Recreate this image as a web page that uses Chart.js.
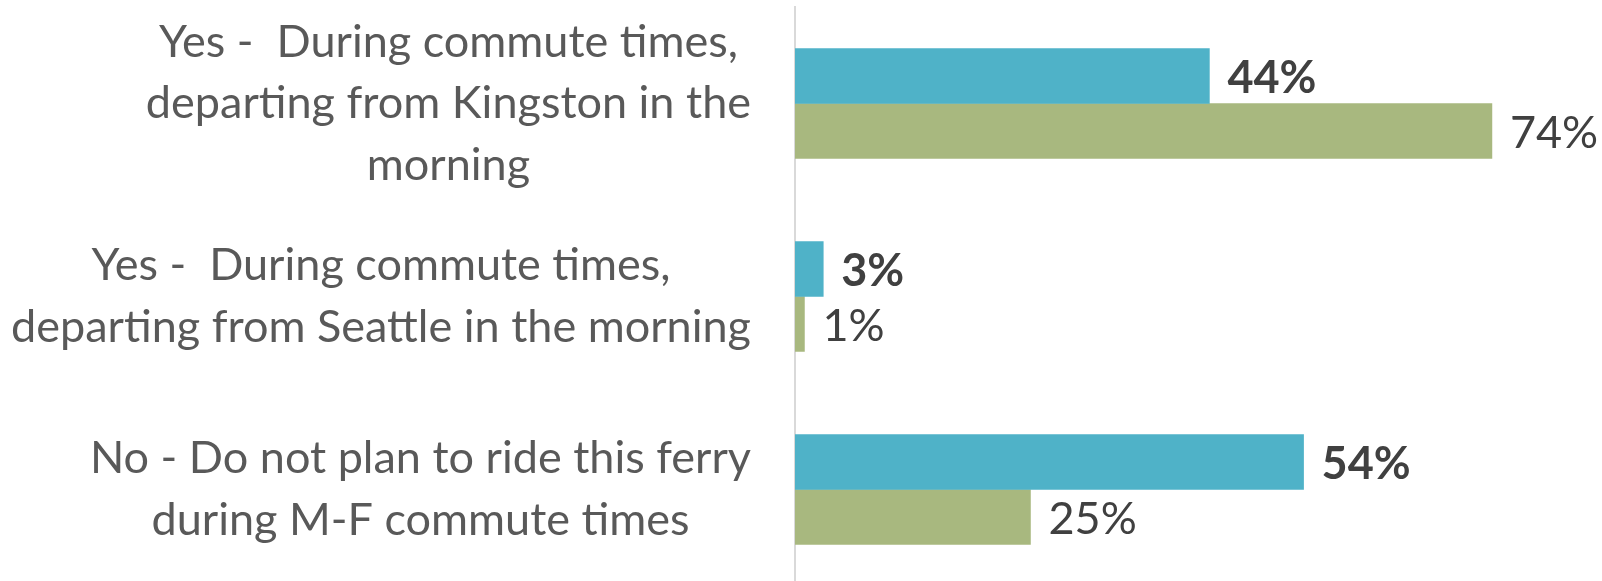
<!DOCTYPE html>
<html>
<head>
<meta charset="utf-8">
<script src="https://cdn.jsdelivr.net/npm/chart.js@4"></script>
<style>
html,body{margin:0;padding:0;background:#fff;overflow:hidden;}
#wrap{width:1602px;height:586px;position:relative;}
</style>
</head>
<body>
<div id="wrap"><canvas id="c"></canvas></div>
<script>
const categories = [
  ["Yes -  During commute times,", "departing from Kingston in the", "morning"],
  ["Yes -  During commute times,", "departing from Seattle in the morning"],
  ["No - Do not plan to ride this ferry", "during M-F commute times"]
];
const series1 = [44, 3, 54];
const series2 = [74, 1, 25];
const seriesNames = ["Series 1", "Series 2"];

const FONT = "Lato";
const catFontSize = 45;
const valFontSize = 45;
const catLineHeight = 61.5;

const labelsPlugin = {
  id: 'customLabels',
  afterDraw(chart) {
    const ctx = chart.ctx;
    const area = chart.chartArea;
    const yScale = chart.scales.y;
    ctx.save();
    ctx.font = catFontSize + "px " + FONT;
    ctx.fillStyle = "#595959";
    ctx.textAlign = "center";
    ctx.textBaseline = "middle";
    const rightEdge = area.left - 44;
    categories.forEach((lines, i) => {
      const cy = yScale.getPixelForValue(i);
      let widest = 0;
      lines.forEach(l => { widest = Math.max(widest, ctx.measureText(l).width); });
      const cx = rightEdge - widest / 2;
      const n = lines.length;
      lines.forEach((l, j) => {
        const y = cy + (j - (n - 1) / 2) * catLineHeight;
        ctx.fillText(l, cx, y);
      });
    });
    ctx.textAlign = "left";
    ctx.textBaseline = "middle";
    chart.data.datasets.forEach((ds, di) => {
      const meta = chart.getDatasetMeta(di);
      ctx.font = (di === 0 ? "bold " : "") + valFontSize + "px " + FONT;
      ctx.fillStyle = "#404040";
      meta.data.forEach((bar, i) => {
        ctx.fillText(ds.data[i] + "%", bar.x + 18, bar.y + 2);
      });
    });
    ctx.restore();
  }
};

new Chart(document.getElementById('c'), {
  type: 'bar',
  data: {
    labels: categories,
    datasets: [
      { label: seriesNames[0], data: series1, backgroundColor: "#4FB2C8", barThickness: 55 },
      { label: seriesNames[1], data: series2, backgroundColor: "#A8B87F", barThickness: 55 }
    ]
  },
  options: {
    indexAxis: 'y',
    responsive: true,
    maintainAspectRatio: false,
    animation: false,
    layout: { padding: { left: 795, right: 6.5, top: 7, bottom: 0 } },
    plugins: { legend: { display: false }, tooltip: { enabled: false } },
    scales: {
      x: {
        min: 0, max: 85,
        display: false,
        grid: { display: false }
      },
      y: {
        ticks: { display: false },
        grid: { display: false, drawTicks: false },
        border: { display: true, color: "#D9D9D9", width: 2 }
      }
    }
  },
  plugins: [labelsPlugin]
});
</script>
</body>
</html>
